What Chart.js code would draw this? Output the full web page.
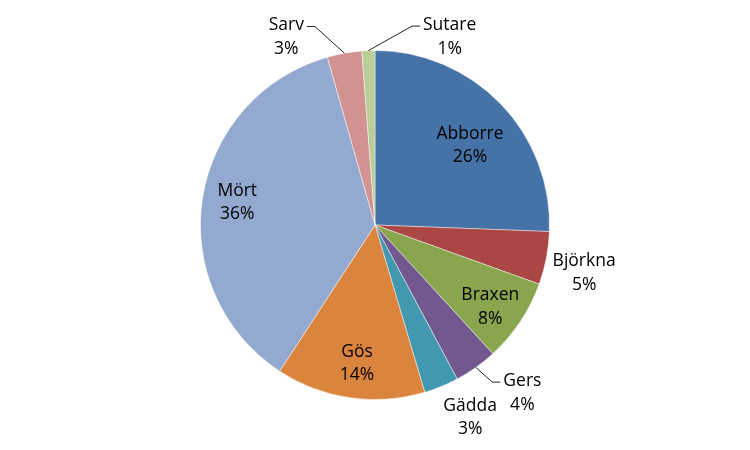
<!DOCTYPE html>
<html>
<head>
<meta charset="utf-8">
<script src="https://cdn.jsdelivr.net/npm/chart.js@4/dist/chart.umd.min.js"></script>
<style>
  html, body { margin: 0; padding: 0; background: #fff; }
  #wrap { width: 750px; height: 450px; }
</style>
</head>
<body>
<div id="wrap"><canvas id="chart"></canvas></div>
<script>
const categories = ["Abborre", "Björkna", "Braxen", "Gers", "Gädda", "Gös", "Mört", "Sarv", "Sutare"];
const shares = [25.6, 4.9, 7.7, 4.0, 3.2, 13.8, 36.4, 3.2, 1.2];
const colors = ["#4572A7", "#AA4643", "#89A54E", "#71588F", "#4198AF", "#DB843D", "#93A9CF", "#D19392", "#B9CD96"];

// label placement: [distance / radius, angle shift in degrees, leader line]
const labelLayout = {
  "Abborre": [0.71, 4, false],
  "Björkna": [1.23, 2, false],
  "Braxen": [0.81, 1.7, false],
  "Gers": [1.28, -6, true],
  "Gädda": [1.23, -4, false],
  "Gös": [0.8, -0.9, false],
  "Mört": [0.8, 0.7, false],
  "Sarv": [1.19, -15.2, true],
  "Sutare": [1.16, 23.8, true]
};

const FONT = "17.5px 'Open Sans'";
const LINE = 23.5;

const pieLabels = {
  id: "pieLabels",
  afterDatasetsDraw(chart) {
    const ctx = chart.ctx;
    const meta = chart.getDatasetMeta(0);
    const total = shares.reduce((a, b) => a + b, 0);
    ctx.save();
    ctx.font = FONT;
    ctx.fillStyle = "#000";
    ctx.textAlign = "center";
    ctx.textBaseline = "middle";
    meta.data.forEach((arc, i) => {
      const name = categories[i];
      const pct = Math.round(shares[i] / total * 100) + "%";
      const [dist, shift, leader] = labelLayout[name];
      const mid = (arc.startAngle + arc.endAngle) / 2;
      const a = mid + shift * Math.PI / 180;
      const r = arc.outerRadius;
      const cx = arc.x + Math.cos(a) * r * dist;
      const cy = arc.y + Math.sin(a) * r * dist;
      const y1 = cy - LINE / 2, y2 = cy + LINE / 2;
      ctx.fillText(name, cx, y1);
      ctx.fillText(pct, cx, y2);
      if (leader) {
        const ex = arc.x + Math.cos(mid) * r;
        const ey = arc.y + Math.sin(mid) * r;
        const half = ctx.measureText(name).width / 2;
        const side = cx > ex ? -1 : 1;
        const tx = cx + side * (half + 3);
        const kx = tx + side * 8;
        const ly = y1 + 1;
        ctx.beginPath();
        ctx.strokeStyle = "#222";
        ctx.lineWidth = 1;
        ctx.moveTo(ex, ey);
        ctx.lineTo(kx, ly);
        ctx.lineTo(tx, ly);
        ctx.stroke();
      }
    });
    ctx.restore();
  }
};

new Chart(document.getElementById("chart"), {
  type: "pie",
  data: {
    labels: categories,
    datasets: [{
      data: shares,
      backgroundColor: colors,
      borderColor: "rgba(255,255,255,0.45)",
      borderWidth: 1
    }]
  },
  options: {
    responsive: true,
    maintainAspectRatio: false,
    animation: false,
    layout: { padding: { top: 50, bottom: 50 } },
    plugins: {
      legend: { display: false },
      tooltip: { enabled: false }
    }
  },
  plugins: [pieLabels]
});
</script>
</body>
</html>
